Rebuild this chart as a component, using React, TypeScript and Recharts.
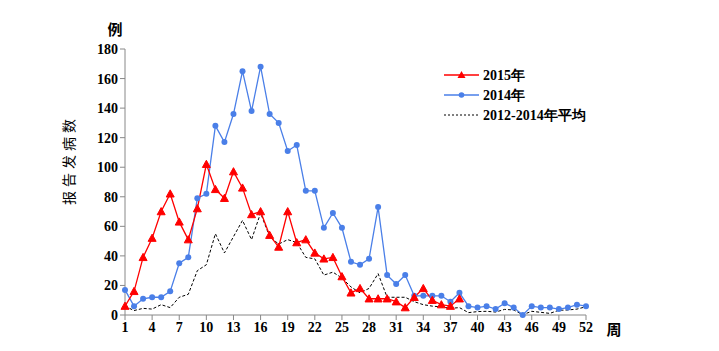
import React from 'react';
import { LineChart, Line, XAxis, YAxis, Label } from 'recharts';

const weeks: number[] = Array.from({ length: 52 }, (_, i) => i + 1);

const y2015: (number | null)[] = [
  6, 16, 39, 52, 70, 82, 63, 51, 72, 102,
  85, 79, 97, 86, 68, 70, 54, 46, 70, 49,
  51, 42, 38, 39, 26, 15, 18, 11, 11, 11,
  9, 5, 12, 18, 10, 7, 6, 11,
];

const y2014: number[] = [
  17, 6, 11, 12, 12, 16, 35, 39, 79, 82,
  128, 117, 136, 165, 138, 168, 136, 130, 111, 115,
  84, 84, 59, 69, 59, 36, 34, 38, 73, 27,
  21, 27, 13, 13, 13, 13, 9, 15, 6, 5,
  6, 4, 8, 5, 0, 6, 5, 5, 4, 5,
  7, 6,
];

const yAvg: number[] = [
  6, 3, 4.5, 4, 7, 5, 12, 14, 30, 34,
  55, 42, 53, 64, 51, 69, 53, 48, 51, 49,
  39, 38, 27, 29, 25, 19, 15, 18, 28, 12,
  12, 12, 9, 7, 6, 5.5, 4.5, 5, 1.6, 2.3,
  2.5, 2, 3.8, 3.4, 0.2, 2.5, 1.8, 1.1, 3.2, 3.4,
  4, 5.6,
];

const xTicks: number[] = [1, 4, 7, 10, 13, 16, 19, 22, 25, 28, 31, 34, 37, 40, 43, 46, 49, 52];
const yTicks: number[] = [0, 20, 40, 60, 80, 100, 120, 140, 160, 180];

const legendLabels: string[] = ['2015年', '2014年', '2012-2014年平均'];

const data = weeks.map((w, i) => ({
  week: w,
  y2015: i < y2015.length ? y2015[i] : null,
  y2014: y2014[i],
  avg: yAvg[i],
}));

const serif = '"Liberation Serif", "Times New Roman", serif';
const cjk = '"Noto Sans CJK SC", sans-serif';

const RED = '#FF0000';
const BLUE = '#4A7FE8';

const Triangle = (props: any) => {
  const { cx, cy, value } = props;
  if (value == null || cx == null || cy == null) return null;
  const s = 4;
  return (
    <path
      d={`M${cx},${cy - s} L${cx + s},${cy + s * 0.8} L${cx - s},${cy + s * 0.8} Z`}
      fill={RED}
      stroke={RED}
    />
  );
};

const LegendBlock = () => {
  const lx = 444;
  const ly = 75;
  return (
    <g>
      <line x1={lx} y1={ly} x2={lx + 35} y2={ly} stroke={RED} strokeWidth={1.5} />
      <path d={`M${lx + 17.5},${ly - 4} L${lx + 21.5},${ly + 3} L${lx + 13.5},${ly + 3} Z`} fill={RED} />
      <text x={lx + 39} y={ly + 5} fontFamily={serif} fontWeight="bold" fontSize={14} fill="#000">{legendLabels[0]}</text>
      <line x1={lx} y1={ly + 20} x2={lx + 35} y2={ly + 20} stroke={BLUE} strokeWidth={1.5} />
      <circle cx={lx + 17.5} cy={ly + 20} r={2.8} fill={BLUE} />
      <text x={lx + 39} y={ly + 25} fontFamily={serif} fontWeight="bold" fontSize={14} fill="#000">{legendLabels[1]}</text>
      <line x1={lx} y1={ly + 40} x2={lx + 35} y2={ly + 40} stroke="#000" strokeWidth={1} strokeDasharray="2 2" />
      <text x={lx + 39} y={ly + 45} fontFamily={serif} fontWeight="bold" fontSize={14} fill="#000">{legendLabels[2]}</text>
    </g>
  );
};

export default function App() {
  return (
    <div style={{ position: 'absolute', left: 0, top: 0, width: 719, height: 351, background: '#fff' }}>
      <LineChart
        width={719}
        height={351}
        data={data}
        margin={{ top: 49, right: 133, bottom: 0, left: 0 }}
      >
        <XAxis
          dataKey="week"
          type="number"
          domain={[1, 52]}
          ticks={xTicks}
          interval={0}
          height={36}
          stroke="#888"
          tickSize={5}
          tick={{ fill: '#000', fontFamily: serif, fontWeight: 'bold', fontSize: 14 }}
        >
          <Label
            content={() => (
              <text x={614} y={335} fontFamily={cjk} fontWeight="bold" fontSize={15} fill="#000" textAnchor="middle">周</text>
            )}
          />
          <Label content={() => <LegendBlock />} />
        </XAxis>
        <YAxis
          domain={[0, 180]}
          ticks={yTicks}
          interval={0}
          width={125}
          stroke="#888"
          tickSize={5}
          tick={{ fill: '#000', fontFamily: serif, fontWeight: 'bold', fontSize: 14 }}
        >
          <Label
            content={() => (
              <text x={115} y={35} fontFamily={cjk} fontWeight="bold" fontSize={15} fill="#000" textAnchor="middle">例</text>
            )}
          />
          <Label
            content={() => (
              <text
                x={68}
                y={160}
                transform="rotate(-90 68 160)"
                fontFamily={cjk}
                fontSize={14}
                letterSpacing={4}
                fill="#000"
                textAnchor="middle"
                dominantBaseline="central"
              >报告发病数</text>
            )}
          />
        </YAxis>
        <Line
          dataKey="avg"
          stroke="#000"
          strokeWidth={1}
          strokeDasharray="3 2"
          dot={false}
          isAnimationActive={false}
        />
        <Line
          dataKey="y2014"
          stroke={BLUE}
          strokeWidth={1.3}
          dot={{ r: 3, fill: BLUE, stroke: BLUE, strokeWidth: 0 }}
          isAnimationActive={false}
        />
        <Line
          dataKey="y2015"
          stroke={RED}
          strokeWidth={1.3}
          dot={<Triangle />}
          connectNulls={false}
          isAnimationActive={false}
        />
      </LineChart>
    </div>
  );
}
